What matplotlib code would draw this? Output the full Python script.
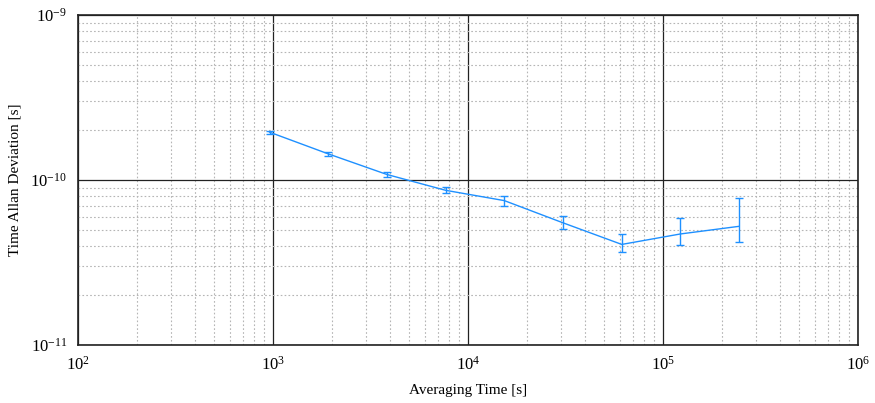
import numpy as np
import matplotlib
matplotlib.use("Agg")
import matplotlib.pyplot as plt

# averaging times and Allan deviation
tau = [960, 1920, 3840, 7680, 15360, 30720, 61440, 122880, 245760]
adev = [1.95e-10, 1.44e-10, 1.08e-10, 8.66e-11, 7.5e-11, 5.5e-11, 4.07e-11, 4.71e-11, 5.24e-11]
err_hi = [1.99e-10, 1.48e-10, 1.117e-10, 9.03e-11, 8.0e-11, 6.05e-11, 4.69e-11, 5.86e-11, 7.81e-11]
err_lo = [1.91e-10, 1.39e-10, 1.047e-10, 8.30e-11, 6.98e-11, 5.02e-11, 3.65e-11, 4.02e-11, 4.21e-11]

plt.rcParams['font.family'] = ['Liberation Serif', 'DejaVu Serif']
plt.rcParams['mathtext.fontset'] = 'stix'

fig = plt.figure(figsize=(8.75, 4.03), dpi=100)
ax = fig.add_axes([0.0891, 0.1439, 0.8915, 0.8189])

adev = np.array(adev)
yerr = [adev - np.array(err_lo), np.array(err_hi) - adev]
ax.errorbar(tau, adev, yerr=yerr, color='#1e90ff', lw=1, capsize=3,
            elinewidth=1, capthick=1)

ax.set_xscale('log')
ax.set_yscale('log')
ax.set_xlim(1e2, 1e6)
ax.set_ylim(1e-11, 1e-9)

ax.grid(True, which='major', color='#222222', lw=0.9, ls='-')
ax.grid(True, which='minor', color='#b5b5b5', lw=0.8, ls=(0, (1.5, 2)))
ax.set_axisbelow(True)
ax.tick_params(which='both', length=0, labelsize=12, pad=8)
for s in ax.spines.values():
    s.set_linewidth(1.2)
    s.set_color('#222222')

ax.set_xlabel('Averaging Time [s]', fontsize=11, labelpad=7)
ax.set_ylabel('Time Allan Deviation [s]', fontsize=11, labelpad=6)

fig.savefig('out.png')
